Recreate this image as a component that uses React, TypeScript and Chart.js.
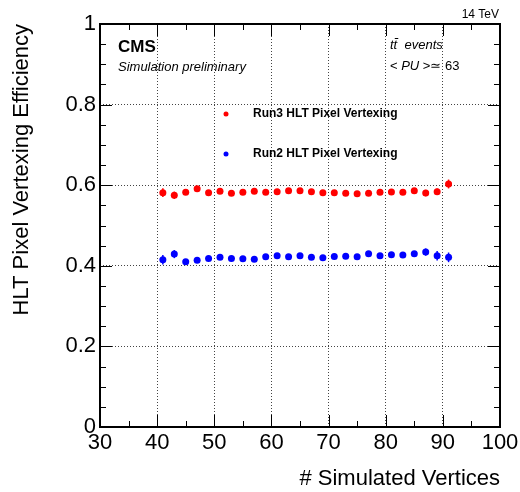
import React, { useEffect, useRef } from "react";
import { Chart, registerables } from "chart.js";

Chart.register(...registerables);

const simVertices = [41, 43, 45, 47, 49, 51, 53, 55, 57, 59, 61, 63, 65, 67, 69, 71, 73, 75, 77, 79, 81, 83, 85, 87, 89, 91];
const run3Eff = [0.5815, 0.575, 0.5825, 0.591, 0.5815, 0.585, 0.58, 0.5825, 0.585, 0.5825, 0.584, 0.5865, 0.5865, 0.584, 0.5815, 0.5815, 0.58, 0.579, 0.58, 0.5825, 0.583, 0.5825, 0.5865, 0.5805, 0.584, 0.603];
const run3Err = [0.011, 0.009, 0.005, 0.005, 0.004, 0.004, 0.004, 0.004, 0.004, 0.004, 0.004, 0.004, 0.004, 0.004, 0.004, 0.004, 0.004, 0.004, 0.004, 0.004, 0.004, 0.004, 0.005, 0.008, 0.008, 0.011];
const run2Eff = [0.415, 0.429, 0.41, 0.414, 0.418, 0.421, 0.418, 0.4175, 0.416, 0.4225, 0.425, 0.4225, 0.425, 0.421, 0.42, 0.423, 0.4235, 0.4225, 0.43, 0.425, 0.4275, 0.427, 0.43, 0.434, 0.425, 0.421];
const run2Err = [0.012, 0.01, 0.005, 0.004, 0.004, 0.004, 0.004, 0.004, 0.004, 0.004, 0.004, 0.004, 0.004, 0.004, 0.004, 0.004, 0.004, 0.004, 0.005, 0.004, 0.005, 0.005, 0.005, 0.009, 0.012, 0.012];

const seriesLabels = ["Run3 HLT Pixel Vertexing", "Run2 HLT Pixel Vertexing"];
const seriesColors = ["#ff0000", "#0000ff"];
const xTitle = "# Simulated Vertices";
const yTitle = "HLT Pixel Vertexing Efficiency";
const xRange = [30, 100];
const yRange = [0, 1];
const xMajorStep = 10;
const xMinorStep = 5;
const yMajorStep = 0.2;
const yMinorStep = 0.05;

const FONT = "'Liberation Sans', Arial, Helvetica, sans-serif";

const errorBarPlugin = {
  id: "errorBars",
  beforeDatasetsDraw(chart: any) {
    const ctx = chart.ctx;
    const xs = chart.scales.x;
    const ys = chart.scales.y;
    const errs = [run3Err, run2Err];
    chart.data.datasets.forEach((ds: any, i: number) => {
      ctx.save();
      ctx.strokeStyle = seriesColors[i];
      ctx.lineWidth = 1.5;
      ds.data.forEach((p: any, j: number) => {
        const px = xs.getPixelForValue(p.x);
        ctx.beginPath();
        ctx.moveTo(px, ys.getPixelForValue(p.y - errs[i][j]));
        ctx.lineTo(px, ys.getPixelForValue(p.y + errs[i][j]));
        ctx.stroke();
      });
      ctx.restore();
    });
  },
};

const framePlugin = {
  id: "rootFrame",
  afterDraw(chart: any) {
    const ctx = chart.ctx;
    const a = chart.chartArea;
    const xs = chart.scales.x;
    const ys = chart.scales.y;
    ctx.save();
    ctx.strokeStyle = "#000";
    ctx.lineWidth = 1;
    const nx = Math.round((xRange[1] - xRange[0]) / xMinorStep);
    const xRatio = Math.round(xMajorStep / xMinorStep);
    for (let k = 0; k <= nx; k++) {
      const v = xRange[0] + k * xMinorStep;
      const len = k % xRatio === 0 ? 12 : 6;
      const px = Math.round(xs.getPixelForValue(v)) + 0.5;
      ctx.beginPath();
      ctx.moveTo(px, a.bottom);
      ctx.lineTo(px, a.bottom - len);
      ctx.moveTo(px, a.top);
      ctx.lineTo(px, a.top + len);
      ctx.stroke();
    }
    const ny = Math.round((yRange[1] - yRange[0]) / yMinorStep);
    const yRatio = Math.round(yMajorStep / yMinorStep);
    for (let k = 0; k <= ny; k++) {
      const v = yRange[0] + k * yMinorStep;
      const len = k % yRatio === 0 ? 12 : 6;
      const py = Math.round(ys.getPixelForValue(v)) + 0.5;
      ctx.beginPath();
      ctx.moveTo(a.left, py);
      ctx.lineTo(a.left + len, py);
      ctx.moveTo(a.right, py);
      ctx.lineTo(a.right - len, py);
      ctx.stroke();
    }
    ctx.lineWidth = 2;
    ctx.strokeRect(a.left, a.top, a.right - a.left, a.bottom - a.top);

    ctx.fillStyle = "#000";
    ctx.textBaseline = "middle";
    ctx.textAlign = "right";
    ctx.font = `12px ${FONT}`;
    ctx.fillText("14 TeV", 499, 15);

    ctx.textAlign = "left";
    ctx.font = `bold 17px ${FONT}`;
    ctx.fillText("CMS", 118, 47);
    ctx.font = `italic 13px ${FONT}`;
    ctx.fillText("Simulation preliminary", 118, 67);

    ctx.font = `italic 13px ${FONT}`;
    ctx.fillText("tt\u0304  events", 390, 45);

    let x = 390;
    const y = 66;
    const segs: [string, string][] = [
      ["< ", `13px ${FONT}`],
      ["PU", `italic 13px ${FONT}`],
      [" >\u2243 63", `13px ${FONT}`],
    ];
    segs.forEach(([t, f]) => {
      ctx.font = f;
      ctx.fillText(t, x, y);
      x += ctx.measureText(t).width;
    });

    const legY = [114, 154];
    seriesLabels.forEach((lab, i) => {
      ctx.fillStyle = seriesColors[i];
      ctx.beginPath();
      ctx.arc(226, legY[i], 2.5, 0, Math.PI * 2);
      ctx.fill();
      ctx.fillStyle = "#000";
      ctx.font = `bold 12px ${FONT}`;
      ctx.fillText(lab, 253, legY[i]);
    });
    ctx.restore();
  },
};

export default function App() {
  const ref = useRef<HTMLCanvasElement | null>(null);
  useEffect(() => {
    if (!ref.current) return;
    const chart = new Chart(ref.current, {
      type: "scatter",
      data: {
        datasets: [
          {
            label: seriesLabels[0],
            data: simVertices.map((x, i) => ({ x, y: run3Eff[i] })),
            backgroundColor: seriesColors[0],
            borderWidth: 0,
            pointRadius: 3.5,
          },
          {
            label: seriesLabels[1],
            data: simVertices.map((x, i) => ({ x, y: run2Eff[i] })),
            backgroundColor: seriesColors[1],
            borderWidth: 0,
            pointRadius: 3.5,
          },
        ],
      },
      options: {
        responsive: false,
        animation: false,
        layout: { padding: { top: 24, right: 20, left: 0, bottom: 0 } },
        plugins: { legend: { display: false }, tooltip: { enabled: false } },
        scales: {
          x: {
            type: "linear",
            min: xRange[0],
            max: xRange[1],
            afterFit: (s: any) => {
              s.height = 65;
              s.paddingLeft = 0;
              s.paddingRight = 0;
            },
            ticks: {
              stepSize: xMajorStep,
              autoSkip: false,
              maxRotation: 0,
              padding: 3,
              color: "#000",
              font: { family: FONT, size: 22 },
            },
            grid: { drawTicks: false, color: "#444", lineWidth: 1 },
            border: { display: false, dash: [1, 2] },
            title: {
              display: true,
              text: xTitle,
              align: "end",
              color: "#000",
              font: { family: FONT, size: 22 },
              padding: { top: 0, bottom: 0 },
            },
          },
          y: {
            type: "linear",
            min: yRange[0],
            max: yRange[1],
            afterFit: (s: any) => {
              s.width = 100;
              s.paddingTop = 0;
              s.paddingBottom = 0;
            },
            ticks: {
              stepSize: yMajorStep,
              padding: 4,
              color: "#000",
              font: { family: FONT, size: 22 },
              callback: (v: any) => String(Math.round(Number(v) * 10) / 10),
            },
            grid: { drawTicks: false, color: "#444", lineWidth: 1 },
            border: { display: false, dash: [1, 2] },
            title: {
              display: true,
              text: yTitle,
              align: "end",
              color: "#000",
              font: { family: FONT, size: 22 },
              padding: { top: 9, bottom: 0 },
            },
          },
        },
      },
      plugins: [errorBarPlugin, framePlugin],
    } as any);
    return () => chart.destroy();
  }, []);
  return (
    <div style={{ position: "absolute", left: 0, top: 0, width: 520, height: 492, background: "#fff" }}>
      <canvas ref={ref} width={520} height={492} style={{ display: "block" }} />
    </div>
  );
}
